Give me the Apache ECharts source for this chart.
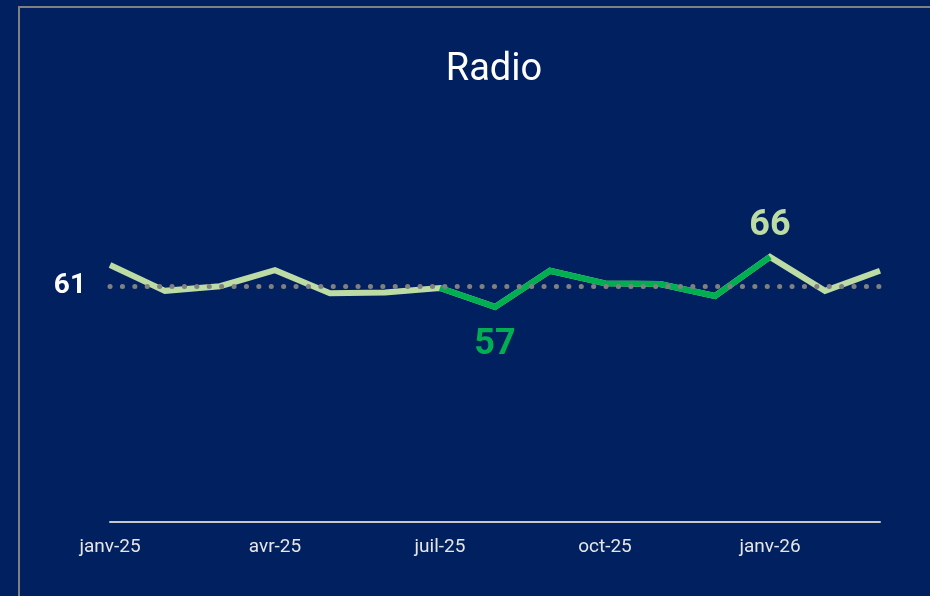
<!DOCTYPE html>
<html>
<head>
<meta charset="utf-8">
<script src="https://cdn.jsdelivr.net/npm/echarts@6/dist/echarts.min.js"></script>
<style>
html,body{margin:0;padding:0;background:#002060;}
#chart{width:930px;height:596px;}
</style>
</head>
<body>
<div id="chart"></div>
<script>
const titleText = 'Radio';
const months = ['janv-25','févr-25','mars-25','avr-25','mai-25','juin-25','juil-25','août-25','sept-25','oct-25','nov-25','déc-25','janv-26','févr-26','mars-26'];
const values = [64.7, 60.2, 61.0, 63.8, 59.8, 59.9, 60.7, 57.4, 63.7, 61.5, 61.4, 59.3, 66.1, 60.2, 63.7];
const averageValue = 61.0;
const highlightStart = 6;
const highlightEnd = 12;

const lightGreen = '#bcdca4';
const darkGreen = '#00b050';

let minIdx = 0, maxIdx = 0;
values.forEach((v, i) => { if (v < values[minIdx]) minIdx = i; if (v > values[maxIdx]) maxIdx = i; });

const darkData = values.map((v, i) => (i < highlightStart || i > highlightEnd) ? null : v);

const chart = echarts.init(document.getElementById('chart'));
chart.setOption({
  backgroundColor: '#002060',
  animation: false,
  title: {
    text: titleText, left: 489, top: 46, textAlign: 'center',
    textStyle: { color: '#ffffff', fontSize: 38, fontWeight: 'normal', fontFamily: 'Roboto' }
  },
  graphic: [{
    type: 'rect', shape: { x: 19, y: 7, width: 1000, height: 700 },
    style: { fill: 'none', stroke: '#808080', lineWidth: 2 }, silent: true
  }],
  grid: { left: 110, right: 50, top: 62, bottom: 74 },
  xAxis: {
    type: 'category', data: months, boundaryGap: false,
    axisLine: { show: true, lineStyle: { color: '#c8c8c8', width: 2 } },
    axisTick: { show: false },
    axisLabel: { interval: 2, color: '#e6e6e6', fontSize: 19, fontFamily: 'Roboto', margin: 16 },
    splitLine: { show: false }
  },
  yAxis: { type: 'value', min: 20, max: 100, show: false, splitLine: { show: false } },
  series: [
    {
      type: 'line', data: values, showSymbol: false, symbol: 'none',
      lineStyle: { color: lightGreen, width: 6, cap: 'butt', join: 'miter' },
      z: 3,
      markLine: {
        silent: true, symbol: 'none',
        lineStyle: { color: '#808080', width: 5, type: [0.1, 12.3], cap: 'round' },
        label: { show: true, position: 'start', distance: 24, color: '#ffffff', fontSize: 28, fontWeight: 'bold', fontFamily: 'Roboto', padding: [4, 0, 0, 0], formatter: () => Math.round(averageValue) },
        data: [{ yAxis: averageValue }]
      },
      markPoint: {
        silent: true, symbol: 'rect', symbolSize: 1,
        itemStyle: { color: 'rgba(0,0,0,0)' },
        label: { show: true, position: 'top', distance: 12, color: lightGreen, fontSize: 36, fontWeight: 'bold', fontFamily: 'Roboto', formatter: p => Math.round(p.value) },
        data: [{ coord: [maxIdx, values[maxIdx]], value: values[maxIdx] }]
      }
    },
    {
      type: 'line', data: darkData, showSymbol: false, symbol: 'none', connectNulls: false,
      lineStyle: { color: darkGreen, width: 6, cap: 'butt', join: 'miter' },
      z: 4,
      markPoint: {
        silent: true, symbol: 'rect', symbolSize: 1,
        itemStyle: { color: 'rgba(0,0,0,0)' },
        label: { show: true, position: 'bottom', distance: 20, color: darkGreen, fontSize: 36, fontWeight: 'bold', fontFamily: 'Roboto', formatter: p => Math.round(p.value) },
        data: [{ coord: [minIdx, values[minIdx]], value: values[minIdx] }]
      }
    }
  ]
});
</script>
</body>
</html>
